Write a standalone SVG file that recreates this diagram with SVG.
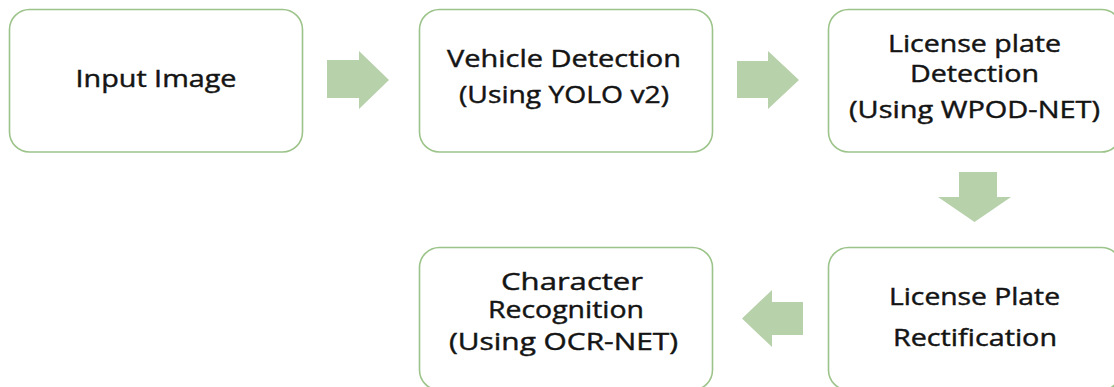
<svg xmlns="http://www.w3.org/2000/svg" width="1114" height="387" viewBox="0 0 1114 387">
<style>
.box{fill:#ffffff;stroke:#9cc48a;stroke-width:1.6}
.arr{fill:#b7d1ab;stroke:none}
.t{font-family:"Open Sans","Liberation Sans",sans-serif;font-size:24.5px;fill:#141414;stroke:#141414;stroke-width:0.45;text-anchor:middle}
</style>
<rect width="1114" height="387" fill="#ffffff"/>
<g id="connectors">
<polygon class="arr" points="327,60 359,60 359,51 389,80 359,109 359,98 327,98"/>
<polygon class="arr" points="737,61 768,61 768,51 799,80 768,109 768,98 737,98"/>
<polygon class="arr" points="959,172 997,172 997,197 1011,197 974.5,222 938,197 959,197"/>
<polygon class="arr" points="803,302 772,302 772,290 742,318.5 772,347 772,335 803,335"/>
</g>
<g id="node-input">
<rect class="box" x="9.5" y="9.5" width="293" height="142.5" rx="20"/>
<text class="t" x="156" y="87" textLength="161" lengthAdjust="spacingAndGlyphs">Input Image</text>
</g>
<g id="node-vehicle">
<rect class="box" x="419.5" y="9.5" width="293" height="142.5" rx="20"/>
<text class="t" x="564" y="67" textLength="234" lengthAdjust="spacingAndGlyphs">Vehicle Detection</text>
<text class="t" x="564" y="103" textLength="210" lengthAdjust="spacingAndGlyphs">(Using YOLO v2)</text>
</g>
<g id="node-plate-detection">
<rect class="box" x="828.5" y="9.5" width="293" height="142.5" rx="20"/>
<text class="t" x="974.5" y="52" textLength="173" lengthAdjust="spacingAndGlyphs">License plate</text>
<text class="t" x="974.5" y="82" textLength="129" lengthAdjust="spacingAndGlyphs">Detection</text>
<text class="t" x="974.5" y="118" textLength="251" lengthAdjust="spacingAndGlyphs">(Using WPOD-NET)</text>
</g>
<g id="node-rectification">
<rect class="box" x="828.5" y="247.5" width="293" height="142.5" rx="20"/>
<text class="t" x="974.5" y="305" textLength="171" lengthAdjust="spacingAndGlyphs">License Plate</text>
<text class="t" x="975" y="345.5" textLength="164" lengthAdjust="spacingAndGlyphs">Rectification</text>
</g>
<g id="node-character">
<rect class="box" x="419.5" y="247.5" width="293" height="142.5" rx="20"/>
<text class="t" x="572" y="290" textLength="142" lengthAdjust="spacingAndGlyphs">Character</text>
<text class="t" x="566" y="318" textLength="156" lengthAdjust="spacingAndGlyphs">Recognition</text>
<text class="t" x="563.5" y="350" textLength="229" lengthAdjust="spacingAndGlyphs">(Using OCR-NET)</text>
</g>
</svg>
